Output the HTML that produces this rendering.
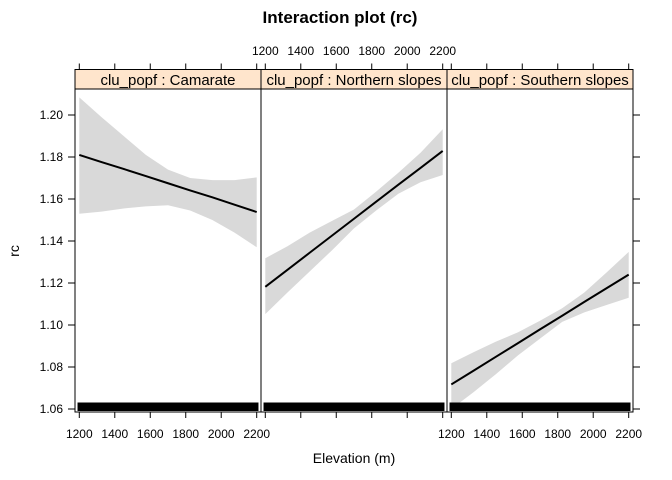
<!DOCTYPE html>
<html><head><meta charset="utf-8"><style>
body{margin:0;background:#fff}
svg{display:block;font-family:"Liberation Sans",Arial,sans-serif}
</style></head><body>
<svg id="c" width="672" height="480" xmlns="http://www.w3.org/2000/svg">
<text x="340" y="23" text-anchor="middle" font-size="17" font-weight="bold">Interaction plot (rc)</text>
<text x="354" y="463" text-anchor="middle" font-size="14">Elevation (m)</text>
<text x="19" y="251" text-anchor="middle" font-size="14" transform="rotate(-90 19 251)">rc</text>
</svg>
<script>
const panelNames = ["clu_popf : Camarate", "clu_popf : Northern slopes", "clu_popf : Southern slopes"];
const xs = [1200, 1325, 1450, 1575, 1700, 1825, 1950, 2075, 2200];
const fitCam = [1.181, 1.1776, 1.1743, 1.1709, 1.1675, 1.1641, 1.1608, 1.1573, 1.1538];
const upCam = [1.2084, 1.199, 1.190, 1.181, 1.174, 1.170, 1.169, 1.169, 1.1703];
const loCam = [1.153, 1.154, 1.1555, 1.1565, 1.157, 1.1545, 1.150, 1.144, 1.137];
const fitNor = [1.1182, 1.1263, 1.1344, 1.1425, 1.1506, 1.1587, 1.1668, 1.1748, 1.1829];
const upNor = [1.1318, 1.1375, 1.144, 1.1495, 1.155, 1.1635, 1.1725, 1.182, 1.1932];
const loNor = [1.1052, 1.1155, 1.1255, 1.1355, 1.146, 1.1545, 1.1625, 1.168, 1.1714];
const fitSou = [1.0717, 1.0782, 1.0848, 1.0913, 1.0979, 1.1044, 1.1110, 1.1175, 1.1240];
const upSou = [1.0818, 1.087, 1.092, 1.0965, 1.102, 1.108, 1.1155, 1.125, 1.1348];
const loSou = [1.060, 1.068, 1.0765, 1.0855, 1.0935, 1.1015, 1.106, 1.1095, 1.113];
const yTicks = [1.06, 1.08, 1.10, 1.12, 1.14, 1.16, 1.18, 1.20];
const xTicks = [1200, 1400, 1600, 1800, 2000, 2200];
const fits=[fitCam,fitNor,fitSou], ups=[upCam,upNor,upSou], los=[loCam,loNor,loSou];

const NS="http://www.w3.org/2000/svg", svg=document.getElementById('c');
function mk(t,a,p){const e=document.createElementNS(NS,t);for(const k in a)e.setAttribute(k,a[k]);(p||svg).appendChild(e);return e;}
const plotTop=89, plotBot=412, stripTop=69.5;
const lefts=[75,261,447], pw=186;
const yScale=v=>115+(1.20-v)*2100;
const xf=(i,v)=>lefts[i]+4.3+(v-1200)*(pw-8.6)/1000;

for(let i=0;i<3;i++){
  const g=mk('g',{});
  
  
  let d='M'+xs.map((v,j)=>xf(i,v)+','+yScale(ups[i][j])).join(' L')+' L'+xs.slice().reverse().map((v,j)=>xf(i,v)+','+yScale(los[i][xs.length-1-j])).join(' L')+'Z';
  const b=mk('path',{d:d,fill:'#d9d9d9',stroke:'none'},g);
  
  
  const r=mk('rect',{x:xf(i,1190),y:402.5,width:xf(i,2210)-xf(i,1190),height:8.5,fill:'#000'},g);
  
  
  const l=mk('polyline',{points:xs.map((v,j)=>xf(i,v)+','+yScale(fits[i][j])).join(' '),fill:'none',stroke:'#000','stroke-width':2},g);
  
  
  mk('rect',{x:lefts[i],y:plotTop,width:pw,height:plotBot-plotTop,fill:'none',stroke:'#000','stroke-width':1},g);
  const s=mk('rect',{x:lefts[i],y:stripTop,width:pw,height:plotTop-stripTop,fill:'#ffe5cc',stroke:'#000','stroke-width':1},g);
  
  
  const st=mk('text',{x:lefts[i]+pw/2,y:85,'text-anchor':'middle','font-size':15},g);
  st.textContent=panelNames[i];
  
  
  xTicks.forEach(t=>{
    const X=xf(i,t);
    mk('line',{x1:X,y1:plotBot,x2:X,y2:plotBot+6,stroke:'#000'},g);
    mk('line',{x1:X,y1:stripTop,x2:X,y2:stripTop-6,stroke:'#000'},g);
    if(i!==1){const tl=mk('text',{x:X,y:438,'text-anchor':'middle','font-size':12},g);tl.textContent=t;
      }
    else{const tl=mk('text',{x:X,y:55,'text-anchor':'middle','font-size':12},g);tl.textContent=t;
      }
  });
}
yTicks.forEach(t=>{
  mk('line',{x1:68,y1:yScale(t),x2:75,y2:yScale(t),stroke:'#000'});
  mk('line',{x1:633,y1:yScale(t),x2:640,y2:yScale(t),stroke:'#000'});
  const tl=mk('text',{x:63,y:yScale(t)+4,'text-anchor':'end','font-size':12});
  tl.textContent=t.toFixed(2);
  
  
});
</script>
</body></html>
